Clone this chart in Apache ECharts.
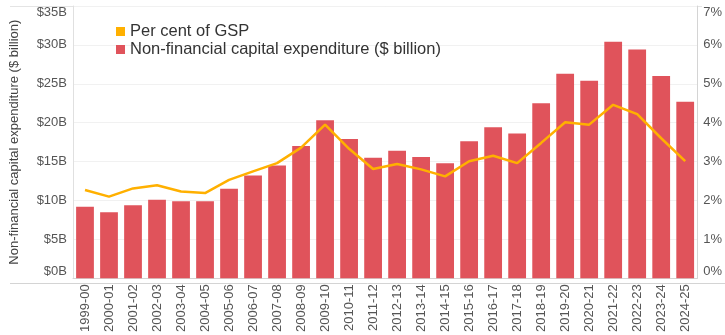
<!DOCTYPE html>
<html>
<head>
<meta charset="utf-8">
<title>Non-financial capital expenditure</title>
<script src="https://cdn.jsdelivr.net/npm/echarts@6/dist/echarts.min.js"></script>
<style>
  html, body { margin: 0; padding: 0; background: #fff; }
  #chart { width: 725px; height: 335px; }
</style>
</head>
<body>
<div id="chart"></div>
<script>
// Financial years
const years = [
  '1999-00', '2000-01', '2001-02', '2002-03', '2003-04', '2004-05', '2005-06',
  '2006-07', '2007-08', '2008-09', '2009-10', '2010-11', '2011-12', '2012-13',
  '2013-14', '2014-15', '2015-16', '2016-17', '2017-18', '2018-19', '2019-20',
  '2020-21', '2021-22', '2022-23', '2023-24', '2024-25'
];

// Non-financial capital expenditure ($ billion)
const capex = [
  9.2, 8.5, 9.4, 10.1, 9.9, 9.9, 11.5, 13.2, 14.5, 17.0, 20.3, 17.9, 15.5,
  16.4, 15.6, 14.8, 17.6, 19.4, 18.6, 22.5, 26.3, 25.4, 30.4, 29.4, 26.0, 22.7
];

// Capital expenditure as a per cent of GSP
const pctGsp = [
  2.27, 2.10, 2.31, 2.39, 2.23, 2.19, 2.53, 2.75, 2.96, 3.36, 3.95, 3.33, 2.81,
  2.94, 2.80, 2.62, 3.01, 3.15, 2.96, 3.48, 4.01, 3.95, 4.46, 4.22, 3.60, 3.01
];

// Axis ticks
const dollarTicks = { min: 0, max: 35, interval: 5 };
const pctTicks = { min: 0, max: 7, interval: 1 };

const GRID = { left: 73, right: 23, top: 6, bottom: 52 };
const W = 725, H = 335;
const FONT = '"Liberation Sans", Arial, sans-serif';
const BAR_COLOR = '#E0535B';
const LINE_COLOR = '#FFB000';

const chart = echarts.init(document.getElementById('chart'), null, { renderer: 'canvas' });

chart.setOption({
  animation: false,
  backgroundColor: '#fff',
  textStyle: { fontFamily: FONT },
  grid: GRID,
  legend: {
    orient: 'vertical',
    left: 111,
    top: 18,
    itemWidth: 9,
    itemHeight: 9,
    itemGap: 1,
    icon: 'rect',
    textStyle: { fontFamily: FONT, fontSize: 16.5, color: '#333', lineHeight: 16 },
    data: ['Per cent of GSP', 'Non-financial capital expenditure ($ billion)']
  },
  xAxis: {
    type: 'category',
    data: years,
    axisTick: { show: false },
    axisLine: { show: true, lineStyle: { color: '#d4d4d4' } },
    axisLabel: {
      rotate: 90,
      interval: 0,
      margin: 6,
      fontSize: 13,
      color: '#555',
      fontFamily: FONT
    }
  },
  yAxis: [
    {
      type: 'value',
      min: dollarTicks.min,
      max: dollarTicks.max,
      interval: dollarTicks.interval,
      name: 'Non-financial capital expenditure ($ billion)',
      nameLocation: 'middle',
      nameGap: 52,
      nameTextStyle: { fontSize: 13, color: '#444', fontFamily: FONT },
      axisLine: { show: true, lineStyle: { color: '#e0e0e0' } },
      axisTick: { show: false },
      splitLine: { show: true, lineStyle: { color: '#f1f1f1' } },
      axisLabel: {
        formatter: '${value}B',
        fontSize: 13,
        color: '#555',
        margin: 6,
        fontFamily: FONT,
        verticalAlignMinLabel: 'bottom',
        verticalAlignMaxLabel: 'top'
      }
    },
    {
      type: 'value',
      position: 'right',
      min: pctTicks.min,
      max: pctTicks.max,
      interval: pctTicks.interval,
      axisLine: { show: true, lineStyle: { color: '#d4d4d4' } },
      axisTick: { show: false },
      splitLine: { show: false },
      axisLabel: {
        formatter: '{value}%',
        fontSize: 13,
        color: '#555',
        margin: 6,
        fontFamily: FONT,
        verticalAlignMinLabel: 'bottom',
        verticalAlignMaxLabel: 'top'
      }
    }
  ],
  series: [
    {
      name: 'Non-financial capital expenditure ($ billion)',
      type: 'bar',
      data: capex,
      yAxisIndex: 0,
      barCategoryGap: '26%',
      itemStyle: { color: BAR_COLOR }
    },
    {
      name: 'Per cent of GSP',
      type: 'line',
      data: pctGsp,
      yAxisIndex: 1,
      symbol: 'none',
      lineStyle: { color: LINE_COLOR, width: 2.5 },
      itemStyle: { color: LINE_COLOR },
      z: 3
    }
  ],
  graphic: [
    // frame rules that run past the plot on the left
    {
      type: 'line',
      shape: { x1: 10, y1: GRID.top + 0.5, x2: W - GRID.right, y2: GRID.top + 0.5 },
      style: { stroke: '#e4e4e4', lineWidth: 1 },
      silent: true
    },
    {
      type: 'line',
      shape: { x1: 10, y1: H - GRID.bottom + 0.5, x2: W, y2: H - GRID.bottom + 0.5 },
      style: { stroke: '#d4d4d4', lineWidth: 1 },
      silent: true
    }
  ]
});
</script>
</body>
</html>
